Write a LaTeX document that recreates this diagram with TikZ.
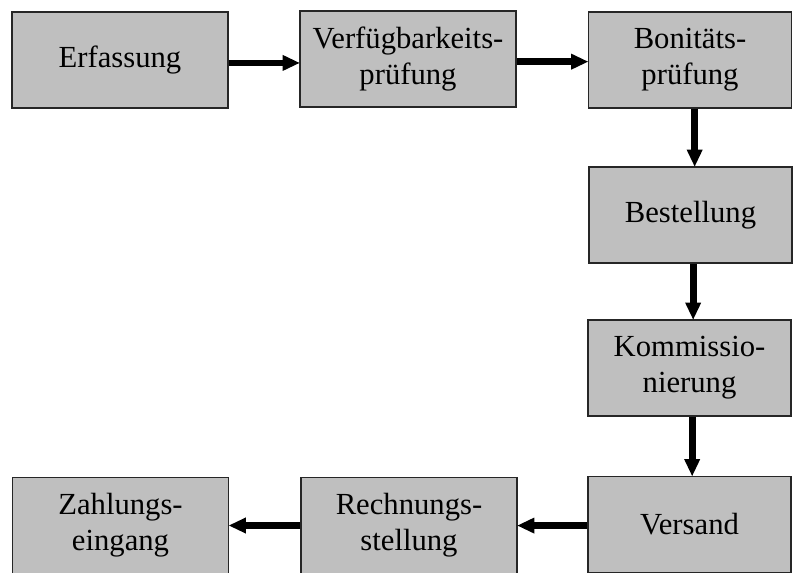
\documentclass[tikz,border=0pt]{standalone}
\usepackage{fontspec}
\setmainfont{Liberation Serif}
\usetikzlibrary{arrows.meta}

\tikzset{
  stage/.style={draw=black!85, line width=1pt, fill=black!25, rectangle,
    inner sep=0pt, align=center, text=black,
    font=\fontsize{23}{27}\selectfont},
  wide/.style={stage, minimum width=216*0.75pt, minimum height=96*0.75pt},
  narrow/.style={stage, minimum width=203*0.75pt, minimum height=96*0.75pt},
  flow/.style={line width=5pt, -{Triangle[length=13pt,width=11pt]}, shorten >=-0.5pt}
}

\begin{document}
\begin{tikzpicture}[x=0.75pt, y=-0.75pt]
  \useasboundingbox (0,0) rectangle (793,572);

  % top row
  \node[wide]   (erf)  at (120,60)   {Erfassung};
  \node[wide]   (verf) at (408,59)   {Verfügbarkeits-\\prüfung};
  \node[narrow] (bon)  at (690,60)   {Bonitäts-\\prüfung};
  % right column
  \node[narrow] (best) at (690.5,215) {Bestellung};
  \node[narrow] (komm) at (689.5,368) {Kommissio-\\nierung};
  \node[narrow] (vers) at (689.5,524.5) {Versand};
  % bottom row
  \node[wide]   (rech) at (409,525.5) {Rechnungs-\\stellung};
  \node[wide]   (zahl) at (120.5,525.5) {Zahlungs-\\eingang};

  % process flow
  \draw[flow] ([yshift=-2.2pt]erf.east) -- ([yshift=-2.2pt]erf.east -| verf.west);
  \draw[flow] ([yshift=-2pt]verf.east) -- ([yshift=-2pt]verf.east -| bon.west);
  \draw[flow] ([xshift=3.5pt]bon.south) -- ([xshift=3.5pt]bon.south |- best.north);
  \draw[flow] ([xshift=2pt]best.south) -- ([xshift=2pt]best.south |- komm.north);
  \draw[flow] ([xshift=2pt]komm.south) -- ([xshift=2pt]komm.south |- vers.north);
  \draw[flow] ([yshift=-0.8pt]vers.west) -- ([yshift=-0.8pt]vers.west -| rech.east);
  \draw[flow] (rech.west) -- (rech.west -| zahl.east);
\end{tikzpicture}
\end{document}
